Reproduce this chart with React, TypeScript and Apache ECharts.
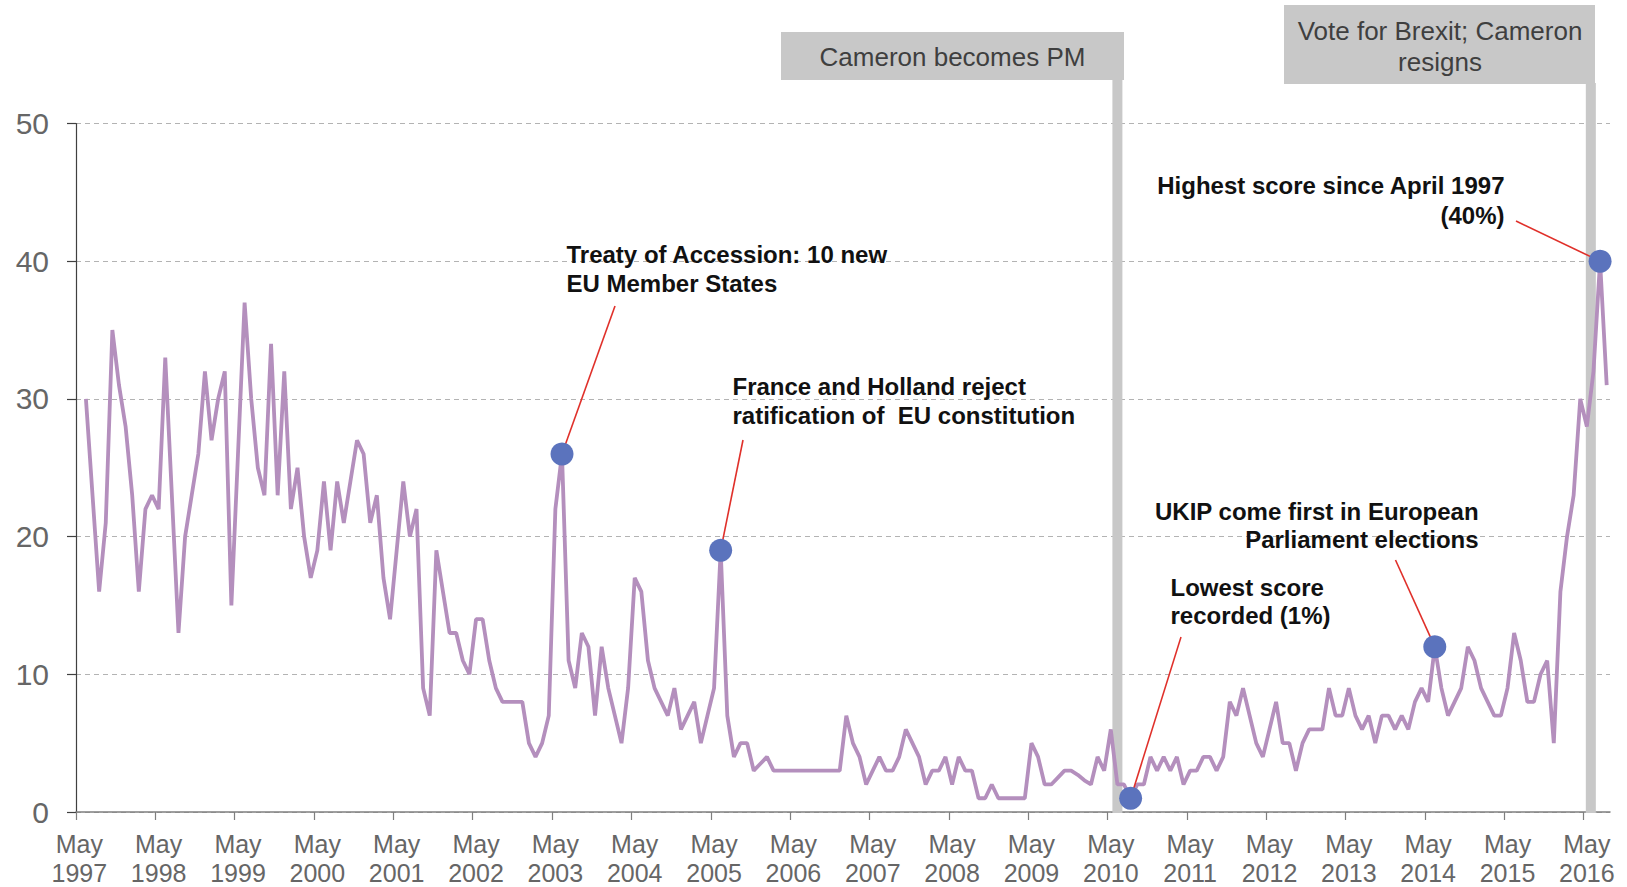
import React, { useEffect, useRef } from "react";
import * as echarts from "echarts";

// ---- categories (monthly readings, May 1997 .. Aug 2016) ----
const MONTH_NAMES = ["Jan", "Feb", "Mar", "Apr", "May", "Jun", "Jul", "Aug", "Sep", "Oct", "Nov", "Dec"];
const FIRST_YEAR = 1997;
const FIRST_MONTH = 4; // May
const CATEGORY_COUNT = 232;
const monthLabel = (k: number) => {
  const m = FIRST_MONTH + k;
  return MONTH_NAMES[m % 12] + " " + (FIRST_YEAR + Math.floor(m / 12));
};
const categories: string[] = Array.from({ length: CATEGORY_COUNT }, (_, k) => monthLabel(k));
// month boundaries (start of each month) used for tick marks
const boundaries: string[] = Array.from({ length: CATEGORY_COUNT + 1 }, (_, k) => monthLabel(k));

// ---- values (% naming Europe as an important issue), by year ----
const v1997 = [null, 30, 23, 16, 21, 35, 31, 28]; // May..Dec (no May reading)
const v1998 = [23, 16, 22, 23, 22, 33, 23, 13, 20, 23, 26, 32];
const v1999 = [27, 30, 32, 15, 26, 37, 30, 25, 23, 34, 23, 32];
const v2000 = [22, 25, 20, 17, 19, 24, 19, 24, 21, 24, 27, 26];
const v2001 = [21, 23, 17, 14, 19, 24, 20, 22, 9, 7, 19, 16];
const v2002 = [13, 13, 11, 10, 14, 14, 11, 9, 8, 8, 8, 8];
const v2003 = [5, 4, 5, 7, 22, 26, 11, 9, 13, 12, 7, 12];
const v2004 = [9, 7, 5, 9, 17, 16, 11, 9, 8, 7, 9, 6];
const v2005 = [7, 8, 5, 7, 9, 19, 7, 4, 5, 5, 3, 3.5];
const v2006 = [4, 3, 3, 3, 3, 3, 3, 3, 3, 3, 3, 3];
const v2007 = [7, 5, 4, 2, 3, 4, 3, 3, 4, 6, 5, 4];
const v2008 = [2, 3, 3, 4, 2, 4, 3, 3, 1, 1, 2, 1];
const v2009 = [1, 1, 1, 1, 5, 4, 2, 2, 2.5, 3, 3, 2.7];
const v2010 = [2.3, 2, 4, 3, 6, 2, 2, 1, 2, 2, 4, 3];
const v2011 = [4, 3, 4, 2, 3, 3, 4, 4, 3, 4, 8, 7];
const v2012 = [9, 7, 5, 4, 6, 8, 5, 5, 3, 5, 6, 6];
const v2013 = [6, 9, 7, 7, 9, 7, 6, 7, 5, 7, 7, 6];
const v2014 = [7, 6, 8, 9, 8, 12, 9, 7, 8, 9, 12, 11];
const v2015 = [9, 8, 7, 7, 9, 13, 11, 8, 8, 10, 11, 5];
const v2016 = [16, 20, 23, 30, 28, 32, 40, 31];

const values: (number | null)[] = [
  ...v1997, ...v1998, ...v1999, ...v2000, ...v2001, ...v2002, ...v2003,
  ...v2004, ...v2005, ...v2006, ...v2007, ...v2008, ...v2009, ...v2010,
  ...v2011, ...v2012, ...v2013, ...v2014, ...v2015, ...v2016,
];

// highlighted readings (category indices)
const highlightIndex = [73, 97, 159, 205, 230];

// y ticks
const yMin = 0;
const yMax = 50;
const yStep = 10;

// events (category position of the vertical bar)
const eventLabels = ["Cameron becomes PM", "Vote for Brexit; Cameron\nresigns"];
const eventIndex = [157, 228.6];

// annotations
const annotationTexts = [
  "Treaty of Accession: 10 new\nEU Member States",
  "France and Holland reject\nratification of  EU constitution",
  "Lowest score\nrecorded (1%)",
  "UKIP come first in European\nParliament elections",
  "Highest score since April 1997\n(40%)",
];

const FONT = "'Liberation Sans', Arial, Helvetica, sans-serif";

export default function App() {
  const ref = useRef<HTMLDivElement>(null);

  useEffect(() => {
    if (!ref.current) return;
    const chart = echarts.init(ref.current, null, { renderer: "svg" });
    const isMay = (_i: number, v: string) => v.startsWith("May");

    chart.setOption({
      animation: false,
      backgroundColor: "#ffffff",
      grid: { left: 76, right: 17, top: 123.5, bottom: 73.5, containLabel: false },
      xAxis: [
        {
          type: "category",
          data: categories,
          boundaryGap: true,
          axisLine: { show: true, lineStyle: { color: "#7f7f7f", width: 1.5 } },
          axisTick: { show: false },
          axisLabel: {
            interval: isMay,
            formatter: (v: string) => v.replace(" ", "\n"),
            fontFamily: FONT,
            fontSize: 25,
            lineHeight: 29,
            color: "#666666",
            margin: 17,
          },
          splitLine: { show: false },
        },
        {
          type: "category",
          data: boundaries,
          boundaryGap: false,
          position: "bottom",
          axisLine: { show: false },
          axisTick: { show: true, interval: isMay, length: 8, lineStyle: { color: "#7f7f7f", width: 1.2 } },
          axisLabel: { show: false },
          splitLine: { show: false },
        },
      ],
      yAxis: {
        type: "value",
        min: yMin,
        max: yMax,
        interval: yStep,
        axisLine: { show: true, lineStyle: { color: "#404040", width: 1.2 } },
        axisTick: { show: true, length: 9, lineStyle: { color: "#404040", width: 1.2 } },
        axisLabel: { fontFamily: FONT, fontSize: 30, color: "#666666", margin: 27 },
        splitLine: { show: true, lineStyle: { color: "#b3b3b3", type: [5, 4], width: 1 } },
      },
      series: [
        {
          type: "line",
          xAxisIndex: 0,
          data: values,
          showSymbol: false,
          symbol: "none",
          connectNulls: false,
          lineStyle: { color: "#b48fbd", width: 3.8 },
          z: 3,
        },
        {
          type: "scatter",
          xAxisIndex: 0,
          data: highlightIndex.map((j) => [j, values[j]]),
          symbolSize: 23,
          itemStyle: { color: "#5b73bd", opacity: 1 },
          z: 5,
        },
      ],
    });

    const toPx = (idx: number, v: number) => {
      const a = chart.convertToPixel({ xAxisIndex: 0, yAxisIndex: 0 }, [0, v]) as number[];
      const b = chart.convertToPixel({ xAxisIndex: 0, yAxisIndex: 0 }, [1, v]) as number[];
      return [a[0] + idx * (b[0] - a[0]), a[1]];
    };

    const y0 = toPx(0, 0)[1];
    const graphic: any[] = [];

    // event boxes & bars
    const boxes = [
      { x: 781, y: 32, w: 343, h: 48, tx: 952.5, ty: 57, barW: 10 },
      { x: 1284, y: 5, w: 311, h: 79, tx: 1440, ty: 46, barW: 10 },
    ];
    boxes.forEach((b, k) => {
      const cx = toPx(eventIndex[k], 0)[0];
      graphic.push({
        type: "rect",
        z: 1,
        shape: { x: cx - b.barW / 2, y: b.y + b.h - 1, width: b.barW, height: y0 - (b.y + b.h) + 2 },
        style: { fill: "#c8c8c8" },
      });
      graphic.push({
        type: "rect",
        z: 1,
        shape: { x: b.x, y: b.y, width: b.w, height: b.h },
        style: { fill: "#c8c8c8" },
      });
      graphic.push({
        type: "text",
        z: 2,
        style: {
          x: b.tx,
          y: b.ty,
          text: eventLabels[k],
          fontFamily: FONT,
          fontSize: 26,
          lineHeight: 31,
          fill: "#3f3f3f",
          align: "center",
          verticalAlign: "middle",
        },
      });
    });

    // annotation texts + leader lines
    const ann = [
      { x: 566.5, y: 268.5, align: "left", lx: 615, ly: 306, lh: 29 },
      { x: 732.5, y: 400.5, align: "left", lx: 743, ly: 440, lh: 29 },
      { x: 1170.5, y: 601, align: "left", lx: 1181, ly: 637, lh: 28 },
      { x: 1478.6, y: 525.5, align: "right", lx: 1395.5, ly: 560, lh: 28 },
      { x: 1504.5, y: 200, align: "right", lx: 1516, ly: 221, lh: 30 },
    ];
    ann.forEach((a, k) => {
      const j = highlightIndex[k];
      const p = toPx(j, values[j] as number);
      graphic.push({
        type: "text",
        z: 6,
        style: {
          x: a.x,
          y: a.y,
          text: annotationTexts[k],
          fontFamily: FONT,
          fontSize: 24,
          fontWeight: "bold",
          lineHeight: a.lh,
          fill: "#111111",
          align: a.align,
          verticalAlign: "middle",
        },
      });
      const dx = p[0] - a.lx;
      const dy = p[1] - a.ly;
      const len = Math.sqrt(dx * dx + dy * dy);
      const r = 10;
      graphic.push({
        type: "line",
        z: 4,
        shape: { x1: a.lx, y1: a.ly, x2: p[0] - (dx / len) * r, y2: p[1] - (dy / len) * r },
        style: { stroke: "#e0302a", lineWidth: 1.6 },
      });
    });

    chart.setOption({ graphic });

    return () => chart.dispose();
  }, []);

  return (
    <div
      ref={ref}
      style={{ position: "fixed", left: 0, top: 0, width: 1627, height: 887, background: "#fff" }}
    />
  );
}
